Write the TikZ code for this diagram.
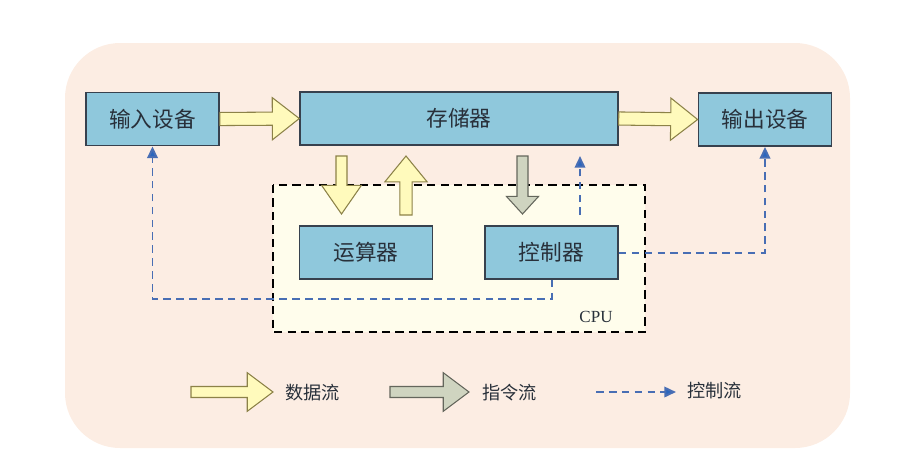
\documentclass[tikz,border=0pt]{standalone}
\usepackage{fontspec}
\usepackage{tikz}
\usetikzlibrary{calc,arrows.meta}
\newfontfamily\cjk{Noto Sans CJK SC}
\newfontfamily\latin{Liberation Serif}

\definecolor{bgpeach}{RGB}{252,237,227}
\definecolor{cpufill}{RGB}{255,253,236}
\definecolor{boxblue}{RGB}{143,200,220}
\definecolor{boxline}{RGB}{55,65,78}
\definecolor{inktext}{RGB}{40,48,58}
\definecolor{datafill}{RGB}{255,250,188}
\definecolor{dataline}{RGB}{140,130,72}
\definecolor{instrfill}{RGB}{207,212,192}
\definecolor{instrline}{RGB}{100,102,92}
\definecolor{ctrlblue}{RGB}{72,110,180}
\definecolor{ctrlhead}{RGB}{42,102,190}

% block arrow: style, from, to, shaft half width, head half width, head length (pt)
\newcommand{\flowarrow}[6]{%
  \draw[#1] let \p1=(#2), \p2=(#3), \n1={atan2(\y2-\y1,\x2-\x1)}, \n2={veclen(\x2-\x1,\y2-\y1)} in
    [shift={(\p1)}, rotate=\n1, x=1pt, y=1pt]
    (0,#4) -- ({\n2-#6},#4) -- ({\n2-#6},#5) -- (\n2,0) -- ({\n2-#6},-#5) -- ({\n2-#6},-#4) -- (0,-#4) -- cycle;
}

\tikzset{
  unit/.style={draw=boxline, line width=1.2pt, fill=boxblue, text=inktext, inner sep=0pt,
    minimum width=4cm, minimum height=1.6cm, font=\cjk\fontsize{18.5}{20}\selectfont},
  dataflow/.style={draw=dataline, fill=datafill, line width=0.9pt, line join=miter},
  instrflow/.style={draw=instrline, fill=instrfill, line width=0.9pt, line join=miter},
  ctrlflow/.style={draw=ctrlblue, line width=1.7pt, dash pattern=on 6.5pt off 4.5pt},
  ctrltip/.style={-{Triangle[length=10pt,width=9pt,fill=ctrlhead]}},
  legend/.style={anchor=west, inner sep=0pt, text=inktext, font=\cjk\fontsize{15.5}{17}\selectfont}
}

\begin{document}
\begin{tikzpicture}[x=0.03cm, y=-0.03cm]
  \useasboundingbox (0,0) rectangle (900,463);
  % background
  \fill[bgpeach, rounded corners=1.65cm] (65,43) rectangle (850,448);

  % CPU
  \draw[fill=cpufill, line width=1.1pt, dash pattern=on 7pt off 4.5pt] (273,185) rectangle (645,332);
  \node[font=\latin\fontsize{14.5}{16}\selectfont, text=inktext] (cpu) at (596,317) {CPU};

  % units
  \node[unit] (in) at (152.5,119) {输入设备};
  \node[unit, minimum width=9.54cm] (mem) at (459,118.5) {存储器};
  \node[unit] (out) at (765,119.5) {输出设备};
  \node[unit] (alu) at (366,252.5) {运算器};
  \node[unit] (ctl) at (551.5,252.5) {控制器};

  % arrow ends
  \coordinate (dtop) at (341.5,156);
  \coordinate (dbot) at (341.5,214);
  \coordinate (utop) at (406,156);
  \coordinate (ubot) at (406,215);
  \coordinate (itop) at (522.5,156);
  \coordinate (ibot) at (522.5,214);
  \coordinate (ctop) at (580,156);
  \coordinate (cbot) at (580,215);

  % data and instruction flow
  \flowarrow{dataflow}{in.east}{mem.west}{5.6}{18}{23}
  \flowarrow{dataflow}{mem.east}{out.west}{5.6}{18}{23}
  \flowarrow{dataflow}{dtop}{dbot}{4.7}{17}{24.5}
  \flowarrow{dataflow}{ubot}{utop}{5.2}{18}{22}
  \flowarrow{instrflow}{itop}{ibot}{4.7}{13.7}{15}

  % control flow
  \draw[ctrlflow, ctrltip] (cbot) -- (ctop);
  \draw[ctrlflow, ctrltip] (ctl.south) -- ++(0,19) -| (in.south);
  \draw[ctrlflow, ctrltip] (ctl.east) -| (out.south);

  % legend
  \coordinate (l1a) at (191,392);
  \coordinate (l1b) at (273,392);
  \coordinate (l2a) at (390,392);
  \coordinate (l2b) at (469,392);
  \coordinate (l3a) at (596,392);
  \coordinate (l3b) at (676,392);
  \flowarrow{dataflow}{l1a}{l1b}{4.7}{16.5}{22}
  \node[legend] (ldata) at (285,393) {数据流};
  \flowarrow{instrflow}{l2a}{l2b}{4.7}{16.5}{22}
  \node[legend] (linstr) at (482,393) {指令流};
  \draw[ctrlflow, ctrltip] (l3a) -- (l3b);
  \node[legend] (lctrl) at (687,391) {控制流};
\end{tikzpicture}
\end{document}
